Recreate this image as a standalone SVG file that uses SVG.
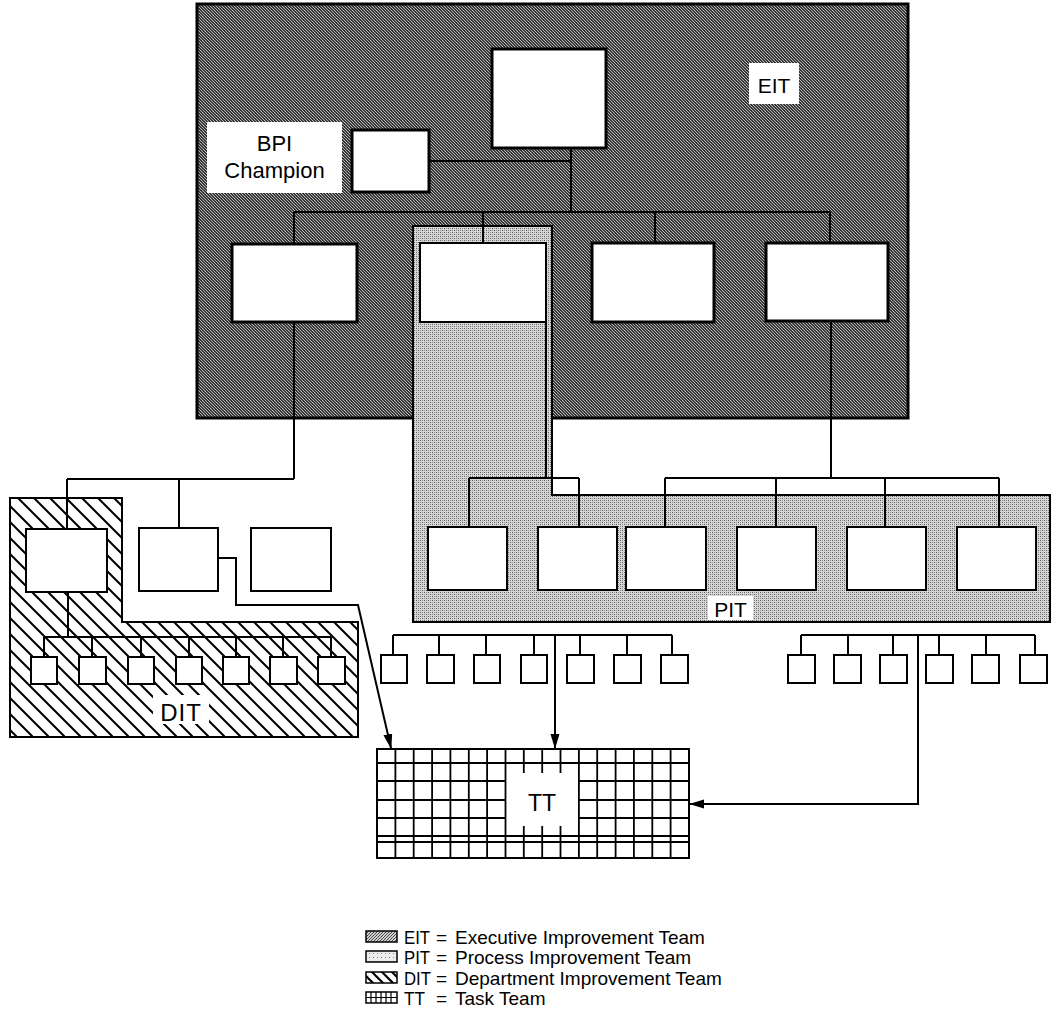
<svg xmlns="http://www.w3.org/2000/svg" width="1061" height="1025" viewBox="0 0 1061 1025">
<style>
.box{fill:#fff;stroke:#000;stroke-width:2}
.ebox{fill:#fff;stroke:#000;stroke-width:3}
.sq{fill:#fff;stroke:#000;stroke-width:2}
.ln{fill:none;stroke:#000;stroke-width:2}
.arr{fill:none;stroke:#000;stroke-width:2;marker-end:url(#ah)}
.lbl{font-family:"Liberation Sans",Arial,sans-serif;fill:#000}
.leg{font-family:"Liberation Sans",Arial,sans-serif;font-size:19px;fill:#000}
.grid{fill:none;stroke:#000;stroke-width:1.8}
</style>
<defs>
<pattern id="eitPat" width="6" height="6" patternUnits="userSpaceOnUse">
<rect width="6" height="6" fill="#383838"/>
<rect x="0" y="0" width="1" height="1" fill="#c0c0c0"/>
<rect x="1" y="1" width="1" height="1" fill="#c0c0c0"/>
<rect x="3" y="0" width="1" height="1" fill="#a8a8a8"/>
<rect x="4" y="1" width="1" height="1" fill="#a8a8a8"/>
<rect x="2" y="2" width="1" height="1" fill="#c0c0c0"/>
<rect x="5" y="2" width="1" height="1" fill="#a8a8a8"/>
<rect x="3" y="3" width="1" height="1" fill="#c0c0c0"/>
<rect x="0" y="3" width="1" height="1" fill="#a8a8a8"/>
<rect x="4" y="4" width="1" height="1" fill="#c0c0c0"/>
<rect x="1" y="4" width="1" height="1" fill="#a8a8a8"/>
<rect x="5" y="5" width="1" height="1" fill="#c0c0c0"/>
<rect x="2" y="5" width="1" height="1" fill="#a8a8a8"/>
</pattern>
<pattern id="pitPat" width="4" height="4" patternUnits="userSpaceOnUse">
<rect width="4" height="4" fill="#d6d6d6"/>
<rect x="0" y="0" width="1" height="1" fill="#606060"/>
<rect x="2" y="2" width="1" height="1" fill="#606060"/>
<rect x="2" y="0" width="1" height="1" fill="#909090"/>
<rect x="0" y="2" width="1" height="1" fill="#909090"/>
</pattern>
<pattern id="eitIcon" width="3" height="3" patternUnits="userSpaceOnUse">
<rect width="3" height="3" fill="#cfcfcf"/>
<rect x="0" y="0" width="1" height="1" fill="#444"/>
<rect x="2" y="1" width="1" height="1" fill="#555"/>
<rect x="1" y="2" width="1" height="1" fill="#444"/>
</pattern>
<pattern id="pitIcon" width="4" height="4" patternUnits="userSpaceOnUse">
<rect width="4" height="4" fill="#ececec"/>
<rect x="1" y="1" width="1" height="1" fill="#888"/>
</pattern>
<pattern id="hatch" width="16" height="16" patternUnits="userSpaceOnUse">
<rect width="16" height="16" fill="#fff"/>
<path d="M-4,-4 L20,20 M-4,12 L4,20 M12,-4 L20,4" stroke="#000" stroke-width="2"/>
</pattern>
<pattern id="hatchIcon" width="10" height="10" patternUnits="userSpaceOnUse">
<rect width="10" height="10" fill="#fff"/>
<path d="M-3,-3 L13,13 M-3,7 L3,13 M7,-3 L13,3" stroke="#000" stroke-width="2.2"/>
</pattern>
<marker id="ah" markerWidth="15" markerHeight="10" refX="14" refY="4.5" orient="auto" markerUnits="userSpaceOnUse">
<path d="M0,0 L15,4.5 L0,9 z" fill="#000"/>
</marker>
</defs>
<rect width="1061" height="1025" fill="#fff"/>

<!-- EIT -->
<g id="eit">
<rect x="197" y="4" width="711" height="414" fill="url(#eitPat)" stroke="#000" stroke-width="3"/>
<rect x="749" y="63" width="50" height="41" fill="#fff"/>
<text class="lbl" x="774" y="93" font-size="21" text-anchor="middle">EIT</text>
</g>

<!-- PIT region -->
<g id="pit">
<polygon points="413,226 552,226 552,495 1050,495 1050,622 413,622" fill="url(#pitPat)" stroke="#000" stroke-width="2"/>
<rect x="708" y="596" width="45" height="24" fill="#fff"/>
<text class="lbl" x="730.5" y="617" font-size="21" text-anchor="middle">PIT</text>
</g>

<!-- DIT region -->
<g id="dit">
<polygon points="10,498 122,498 122,622 358,622 358,737 10,737" fill="url(#hatch)" stroke="#000" stroke-width="2"/>
<rect x="153" y="695" width="56" height="29" fill="#fff"/>
<text class="lbl" x="181" y="721" font-size="24" text-anchor="middle" letter-spacing="1">DIT</text>
</g>

<!-- Connectors -->
<g id="connectors">
<path class="ln" d="M571,148 V212 M429,161 H571 M294,212 H830 M294,212 V245 M483,212 V243 M655,212 V243 M830,212 V243"/>
<path class="ln" d="M294,322 V479 M67,479 H294 M67,479 V529 M179,479 V528"/>
<path class="ln" d="M546,322 V478 M469,478 H579 M469,478 V527 M579,478 V527"/>
<path class="ln" d="M831,321 V478 M665,478 H999 M665,478 V527 M776,478 V527 M885,478 V527 M999,478 V527"/>
<path class="ln" d="M68,592 V637 M44,637 H331 M44,637 V657 M92,637 V657 M141,637 V657 M189,637 V657 M236,637 V657 M283,637 V657 M331,637 V657"/>
<path class="ln" d="M393,635 H672 M393,635 V655 M439,635 V655 M486,635 V655 M534,635 V655 M580,635 V655 M627,635 V655 M672,635 V655"/>
<path class="ln" d="M801,635 H1035 M801,635 V655 M848,635 V655 M893,635 V655 M939,635 V655 M986,635 V655 M1035,635 V655"/>
<path class="arr" d="M218,558 H236 V605 H358 L391,748"/>
<path class="arr" d="M555,635 V748"/>
<path class="arr" d="M918,635 V804 H690"/>
</g>

<!-- EIT nodes -->
<g id="bpi-label"><rect x="207" y="122" width="135" height="71" fill="#fff"/>
<text class="lbl" x="274.5" y="151" font-size="22" text-anchor="middle">BPI</text>
<text class="lbl" x="274.5" y="178" font-size="22" text-anchor="middle">Champion</text></g>
<g id="bpi-champion"><rect class="ebox" x="352" y="130" width="77" height="62"/></g>
<g id="exec-top"><rect class="ebox" x="492" y="49" width="114" height="99"/></g>
<g id="exec-1"><rect class="ebox" x="232" y="244" width="125" height="78"/></g>
<g id="exec-2"><rect class="box" x="420" y="243" width="126" height="79"/></g>
<g id="exec-3"><rect class="ebox" x="592" y="243" width="122" height="79"/></g>
<g id="exec-4"><rect class="ebox" x="766" y="243" width="122" height="78"/></g>

<!-- DIT level boxes -->
<g id="dept-1"><rect class="box" x="26" y="529" width="81" height="63"/></g>
<g id="dept-2"><rect class="box" x="139" y="528" width="79" height="63"/></g>
<g id="dept-3"><rect class="box" x="251" y="528" width="80" height="63"/></g>

<!-- PIT boxes -->
<g id="proc-1"><rect class="box" x="428" y="527" width="79" height="63"/></g>
<g id="proc-2"><rect class="box" x="538" y="527" width="79" height="63"/></g>
<g id="proc-3"><rect class="box" x="626" y="527" width="80" height="63"/></g>
<g id="proc-4"><rect class="box" x="737" y="527" width="79" height="63"/></g>
<g id="proc-5"><rect class="box" x="847" y="527" width="79" height="63"/></g>
<g id="proc-6"><rect class="box" x="957" y="527" width="79" height="63"/></g>

<!-- small squares -->
<g id="dit-squares">
<rect class="sq" x="31" y="657" width="26" height="27"/>
<rect class="sq" x="79" y="657" width="27" height="27"/>
<rect class="sq" x="128" y="657" width="26" height="27"/>
<rect class="sq" x="176" y="657" width="26" height="27"/>
<rect class="sq" x="223" y="657" width="26" height="27"/>
<rect class="sq" x="270" y="657" width="27" height="27"/>
<rect class="sq" x="318" y="657" width="27" height="27"/>
</g>
<g id="mid-squares">
<rect class="sq" x="381" y="655" width="26" height="28"/>
<rect class="sq" x="427" y="655" width="27" height="28"/>
<rect class="sq" x="474" y="655" width="26" height="28"/>
<rect class="sq" x="521" y="655" width="26" height="28"/>
<rect class="sq" x="567" y="655" width="27" height="28"/>
<rect class="sq" x="614" y="655" width="27" height="28"/>
<rect class="sq" x="661" y="655" width="27" height="28"/>
</g>
<g id="right-squares">
<rect class="sq" x="788" y="655" width="27" height="28"/>
<rect class="sq" x="834" y="655" width="27" height="28"/>
<rect class="sq" x="880" y="655" width="27" height="28"/>
<rect class="sq" x="926" y="655" width="27" height="28"/>
<rect class="sq" x="972" y="655" width="27" height="28"/>
<rect class="sq" x="1020" y="655" width="27" height="28"/>
</g>

<!-- TT grid -->
<g id="tt">
<rect x="377" y="749" width="312" height="109" fill="#fff" stroke="#000" stroke-width="2"/>
<path class="grid" d="M377,763 H689 M377,836 H689 M377,842 H689
M377,781 H505.5 M578.9,781 H689 M377,800 H505.5 M578.9,800 H689 M377,818 H505.5 M578.9,818 H689
M395.4,749 V858 M413.7,749 V858 M432.1,749 V858 M450.4,749 V858 M468.8,749 V858 M487.1,749 V858 M505.5,749 V858
M523.8,749 V773 M542.2,749 V773 M560.5,749 V773 M523.8,826 V858 M542.2,826 V858 M560.5,826 V858
M578.9,749 V858 M597.2,749 V858 M615.6,749 V858 M633.9,749 V858 M652.3,749 V858 M670.6,749 V858"/>
<text class="lbl" x="542" y="811" font-size="23" text-anchor="middle">TT</text>
</g>

<!-- Legend -->
<g id="legend">
<rect x="366" y="931" width="31" height="11" fill="url(#eitIcon)" stroke="#000" stroke-width="1.5"/>
<rect x="366" y="951" width="31" height="11" fill="url(#pitIcon)" stroke="#000" stroke-width="1.5"/>
<rect x="366" y="972" width="31" height="11" fill="url(#hatchIcon)" stroke="#000" stroke-width="1.5"/>
<rect x="366" y="992" width="31" height="11" fill="#fff" stroke="#000" stroke-width="1.5"/>
<path d="M366,997.5 H397 M371,992 V1003 M376,992 V1003 M381,992 V1003 M386,992 V1003 M391,992 V1003" stroke="#000" stroke-width="1.2"/>
<text class="leg" x="404" y="944" textLength="26" lengthAdjust="spacingAndGlyphs">EIT</text><text class="leg" x="436" y="944">=</text><text class="leg" x="455" y="944">Executive Improvement Team</text>
<text class="leg" x="404" y="964" textLength="26" lengthAdjust="spacingAndGlyphs">PIT</text><text class="leg" x="436" y="964">=</text><text class="leg" x="455" y="964">Process Improvement Team</text>
<text class="leg" x="404" y="985" textLength="27" lengthAdjust="spacingAndGlyphs">DIT</text><text class="leg" x="436" y="985">=</text><text class="leg" x="455" y="985">Department Improvement Team</text>
<text class="leg" x="404" y="1005" textLength="21" lengthAdjust="spacingAndGlyphs">TT</text><text class="leg" x="436" y="1005">=</text><text class="leg" x="455" y="1005">Task Team</text>
</g>
</svg>
